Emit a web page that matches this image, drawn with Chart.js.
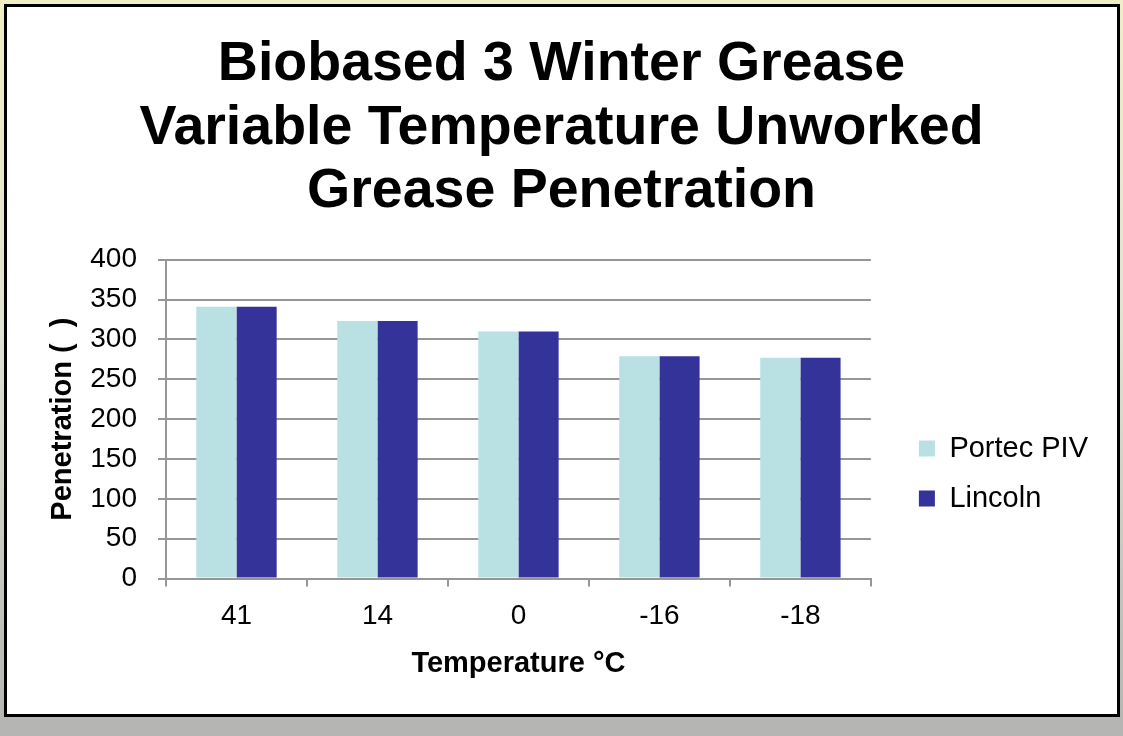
<!DOCTYPE html>
<html>
<head>
<meta charset="utf-8">
<script src="https://cdn.jsdelivr.net/npm/chart.js@4.4.1/dist/chart.umd.min.js"></script>
<style>
  html, body { margin: 0; padding: 0; }
  body { width: 1123px; height: 736px; overflow: hidden; }
  #wrap { position: relative; width: 1123px; height: 736px; }
</style>
</head>
<body>
<div id="wrap"><canvas id="bar-chart"></canvas></div>
<script>
const temperaturas = ['41', '14', '0', '-16', '-18'];
const portec = [341, 323, 310, 279, 277];
const lincoln = [341, 323, 310, 279, 277];
const yTicks = [0, 50, 100, 150, 200, 250, 300, 350, 400];

const fuente = "'Liberation Sans', Arial, sans-serif";
const gris = '#969696';

// slide background and the framed white box
const marco = {
    id: 'marco',
    beforeDraw(chart) {
        const ctx = chart.ctx;
        const w = chart.width, h = chart.height;
        ctx.save();
        const g = ctx.createLinearGradient(0, 0, 0, h);
        g.addColorStop(0, '#efeec4');
        g.addColorStop(0.45, '#e2e2d2');
        g.addColorStop(1, '#b4b4b2');
        ctx.fillStyle = g;
        ctx.fillRect(0, 0, w, h);
        ctx.fillStyle = '#ffffff';
        ctx.fillRect(5, 5, 1114, 711);
        ctx.strokeStyle = '#000000';
        ctx.lineWidth = 3;
        ctx.strokeRect(5.5, 5.5, 1113, 710);
        ctx.restore();
    }
};

// gap between plot and legend, title centred on the box
const ajustes = {
    id: 'ajustes',
    afterLayout(chart) {
        if (chart.legend) {
            chart.legend.left += 27;
            chart.legend.right += 27;
        }
        if (chart.titleBlock) {
            chart.titleBlock.left += 6;
            chart.titleBlock.right += 6;
        }
    }
};

const datos = {
    labels: temperaturas,
    datasets: [
        {
            label: 'Portec PIV',
            data: portec,
            backgroundColor: '#b9e0e3',
            borderWidth: 0
        },
        {
            label: 'Lincoln',
            data: lincoln,
            backgroundColor: '#343399',
            borderWidth: 0
        }
    ]
};

const opciones = {
    responsive: true,
    maintainAspectRatio: false,
    animation: false,
    layout: {
        padding: { top: 0, left: 40, right: 52, bottom: 53 }
    },
    datasets: {
        bar: { barPercentage: 1.0, categoryPercentage: 0.57 }
    },
    plugins: {
        title: {
            display: true,
            text: ['Biobased 3 Winter Grease', 'Variable Temperature Unworked', 'Grease Penetration'],
            color: '#000000',
            font: { family: fuente, size: 55.5, weight: 'bold', lineHeight: 1.145 },
            padding: { top: 33, bottom: 36 }
        },
        legend: {
            position: 'right',
            fullSize: false,
            title: {
                display: true,
                text: '',
                font: { size: 10, lineHeight: 1 },
                padding: { top: 99, bottom: 0 }
            },
            labels: {
                color: '#000000',
                boxWidth: 16,
                boxHeight: 16,
                padding: 21,
                font: { family: fuente, size: 29, lineHeight: 1 }
            }
        },
        tooltip: { enabled: false }
    },
    scales: {
        x: {
            grid: {
                display: true,
                drawOnChartArea: false,
                drawTicks: true,
                tickLength: 8,
                color: gris,
                lineWidth: 2
            },
            border: { display: true, color: gris, width: 2 },
            ticks: {
                color: '#000000',
                padding: 13,
                font: { family: fuente, size: 28 }
            },
            title: {
                display: true,
                text: 'Temperature °C',
                color: '#000000',
                font: { family: fuente, size: 29, weight: 'bold' },
                padding: { top: 0, bottom: 2 }
            }
        },
        y: {
            min: 0,
            max: 400,
            afterBuildTicks(scale) {
                scale.ticks = yTicks.map(v => ({ value: v }));
            },
            afterFit(scale) {
                scale.width = 126;
            },
            grid: {
                color: gris,
                lineWidth: 2,
                tickLength: 8
            },
            border: { display: true, color: gris, width: 2 },
            ticks: {
                color: '#000000',
                padding: 21,
                font: { family: fuente, size: 28 }
            },
            title: {
                display: true,
                text: 'Penetration (  )',
                color: '#000000',
                font: { family: fuente, size: 29, weight: 'bold' },
                padding: { top: 6, bottom: 0 }
            }
        }
    }
};

new Chart(document.getElementById('bar-chart'), {
    type: 'bar',
    data: datos,
    options: opciones,
    plugins: [marco, ajustes]
});
</script>
</body>
</html>
